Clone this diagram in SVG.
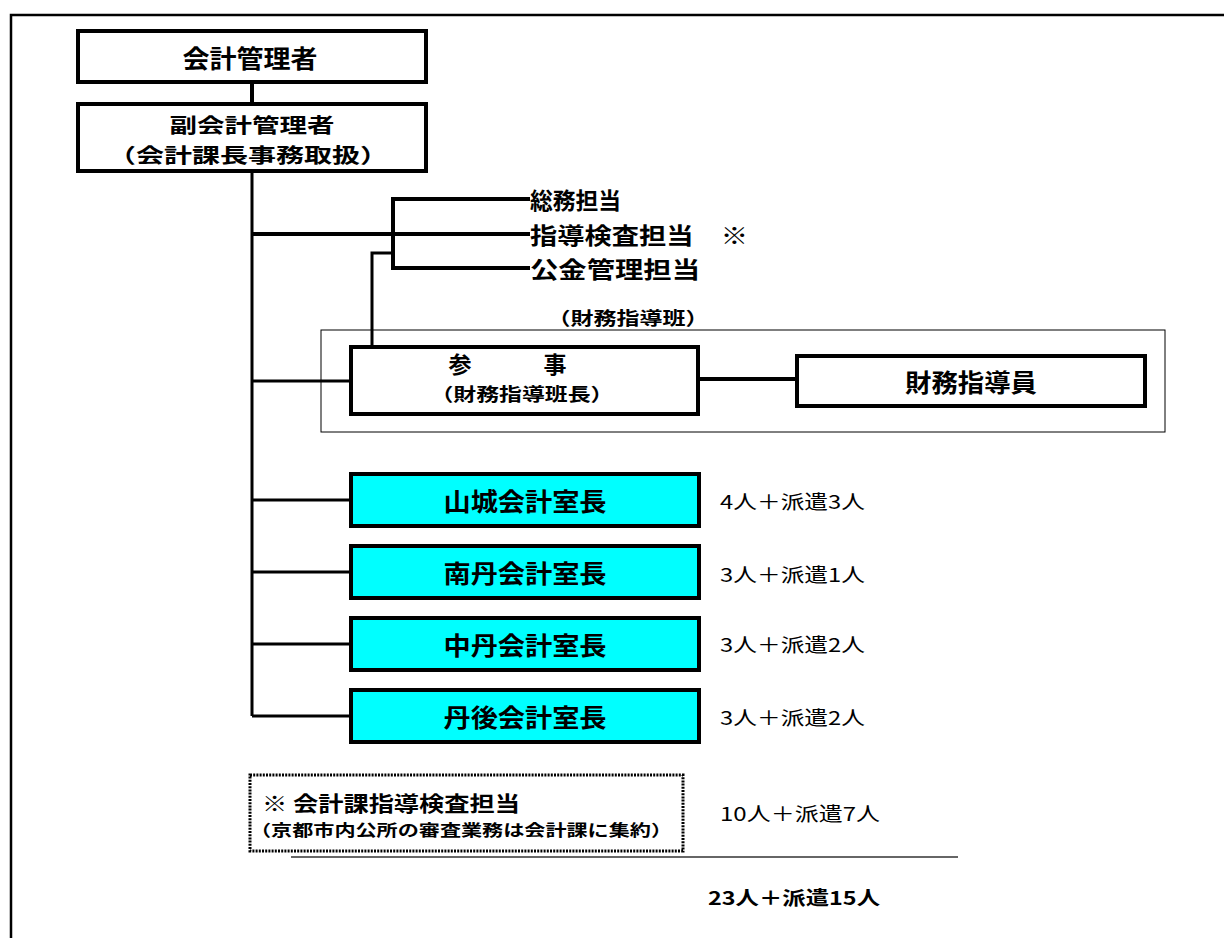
<svg xmlns="http://www.w3.org/2000/svg" width="1224" height="938" viewBox="0 0 1224 938">
<style>
text{font-family:"Noto Sans CJK JP","Liberation Sans",sans-serif;fill:#000;dominant-baseline:central}
.b{font-weight:bold}
.box{fill:#fff;stroke:#000;stroke-width:4}
.office{fill:#00ffff;stroke:#000;stroke-width:4}
.ln{fill:none;stroke:#000;stroke-width:4}
.ln3{fill:none;stroke:#000;stroke-width:3}
</style>
<rect width="1224" height="938" fill="#fff"/>
<path d="M11,938 V15 H1224" fill="none" stroke="#000" stroke-width="2.5"/>
<g id="connectors">
<path class="ln" d="M252,82 V104"/>
<path class="ln3" d="M252,171 V716"/>
<path class="ln" d="M252,234 H530"/>
<path class="ln" d="M530,199 H393 V268 H530"/>
<path class="ln3" d="M372,347 V253 H393"/>
<path class="ln3" d="M252,381 H351"/>
<path class="ln" d="M698,379 H797"/>
<path class="ln3" d="M252,500 H351"/>
<path class="ln3" d="M252,572 H351"/>
<path class="ln3" d="M252,644 H351"/>
<path class="ln3" d="M252,716 H351"/>
</g>
<g id="kaikei-kanrisha">
<rect class="box" x="78" y="31" width="348" height="51"/>
<text class="b" x="250" y="57" font-size="25" text-anchor="middle" textLength="135" lengthAdjust="spacingAndGlyphs">会計管理者</text>
</g>
<g id="fuku-kaikei-kanrisha">
<rect class="box" x="78" y="104" width="348" height="67"/>
<text class="b" x="252" y="124" font-size="20" text-anchor="middle" textLength="165" lengthAdjust="spacingAndGlyphs">副会計管理者</text>
<text class="b" x="248" y="154" font-size="20" text-anchor="middle" textLength="280" lengthAdjust="spacingAndGlyphs">（会計課長事務取扱）</text>
</g>
<g id="tanto">
<text class="b" x="530" y="199" font-size="23" textLength="91" lengthAdjust="spacingAndGlyphs">総務担当</text>
<text class="b" x="530" y="234" font-size="23" textLength="218" lengthAdjust="spacingAndGlyphs">指導検査担当　※</text>
<text class="b" x="530" y="268" font-size="23" textLength="170" lengthAdjust="spacingAndGlyphs">公金管理担当</text>
</g>
<g id="zaimu-shidohan">
<rect x="321" y="330" width="844" height="102" fill="none" stroke="#000" stroke-width="1"/>
<text class="b" x="628" y="317" font-size="18" text-anchor="middle" textLength="161" lengthAdjust="spacingAndGlyphs">（財務指導班）</text>
</g>
<g id="sanji">
<rect class="box" x="351" y="347" width="347" height="67"/>
<text class="b" x="460" y="363" font-size="23" text-anchor="middle">参</text>
<text class="b" x="555" y="363" font-size="23" text-anchor="middle">事</text>
<text class="b" x="522" y="393" font-size="18" text-anchor="middle" textLength="183" lengthAdjust="spacingAndGlyphs">（財務指導班長）</text>
</g>
<g id="zaimu-shidoin">
<rect class="box" x="797" y="356" width="348" height="50"/>
<text class="b" x="971" y="381" font-size="25" text-anchor="middle" textLength="132" lengthAdjust="spacingAndGlyphs">財務指導員</text>
</g>
<g id="yamashiro">
<rect class="office" x="351" y="474" width="348" height="52"/>
<text class="b" x="525" y="500" font-size="25" text-anchor="middle" textLength="163" lengthAdjust="spacingAndGlyphs">山城会計室長</text>
<text x="720" y="500" font-size="19" textLength="145" lengthAdjust="spacingAndGlyphs">4人＋派遣3人</text>
</g>
<g id="nantan">
<rect class="office" x="351" y="546" width="348" height="52"/>
<text class="b" x="525" y="572" font-size="25" text-anchor="middle" textLength="163" lengthAdjust="spacingAndGlyphs">南丹会計室長</text>
<text x="720" y="573" font-size="19" textLength="145" lengthAdjust="spacingAndGlyphs">3人＋派遣1人</text>
</g>
<g id="chutan">
<rect class="office" x="351" y="618" width="348" height="52"/>
<text class="b" x="525" y="644" font-size="25" text-anchor="middle" textLength="163" lengthAdjust="spacingAndGlyphs">中丹会計室長</text>
<text x="720" y="643" font-size="19" textLength="145" lengthAdjust="spacingAndGlyphs">3人＋派遣2人</text>
</g>
<g id="tango">
<rect class="office" x="351" y="690" width="348" height="52"/>
<text class="b" x="525" y="716" font-size="25" text-anchor="middle" textLength="163" lengthAdjust="spacingAndGlyphs">丹後会計室長</text>
<text x="720" y="716" font-size="19" textLength="145" lengthAdjust="spacingAndGlyphs">3人＋派遣2人</text>
</g>
<g id="note">
<rect x="250" y="775" width="433" height="76" fill="none" stroke="#000" stroke-width="3" stroke-dasharray="2 1.2"/>
<text class="b" x="262" y="802" font-size="21" textLength="258" lengthAdjust="spacingAndGlyphs">※ 会計課指導検査担当</text>
<text class="b" x="250" y="829" font-size="16" textLength="422" lengthAdjust="spacingAndGlyphs">（京都市内公所の審査業務は会計課に集約）</text>
<text x="720" y="812" font-size="19" textLength="160" lengthAdjust="spacingAndGlyphs">10人＋派遣7人</text>
</g>
<g id="total">
<line x1="291" y1="857" x2="958" y2="857" stroke="#333" stroke-width="1.5"/>
<text class="b" x="708" y="896" font-size="19" textLength="172" lengthAdjust="spacingAndGlyphs">23人＋派遣15人</text>
</g>
</svg>
